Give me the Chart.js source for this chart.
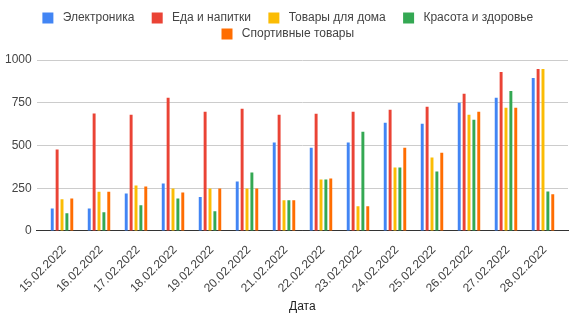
<!DOCTYPE html>
<html>
<head>
<meta charset="utf-8">
<script src="https://cdn.jsdelivr.net/npm/chart.js@4.4.1/dist/chart.umd.min.js"></script>
<style>
  body { margin: 0; background: #fff; }
  #wrap { width: 573px; height: 322px; }
</style>
</head>
<body>
<div id="wrap"><canvas id="myChart"></canvas></div>
<script>
// chart data
const dates = ["15.02.2022", "16.02.2022", "17.02.2022", "18.02.2022", "19.02.2022", "20.02.2022", "21.02.2022",
  "22.02.2022", "23.02.2022", "24.02.2022", "25.02.2022", "26.02.2022", "27.02.2022", "28.02.2022"];
const electronics = [132, 132, 219, 278, 198, 289, 517, 487, 517, 633, 627, 750, 779, 895];
const food = [476, 687, 680, 779, 697, 715, 680, 686, 697, 709, 726, 802, 930, 948];
const home = [185, 229, 266, 249, 249, 249, 179, 301, 144, 371, 429, 680, 720, 948];
const beauty = [103, 109, 150, 190, 115, 342, 179, 301, 581, 371, 348, 651, 819, 231];
const sport = [190, 229, 260, 225, 249, 249, 179, 307, 144, 487, 458, 697, 720, 214];
const yTicks = [0, 250, 500, 750, 1000];

const seriesNames = ["Электроника", "Еда и напитки", "Товары для дома", "Красота и здоровье", "Спортивные товары"];
const seriesColors = ["#4285f4", "#ea4335", "#fbbc04", "#34a853", "#ff6d01"];
const seriesValues = [electronics, food, home, beauty, sport];

Chart.defaults.font.family = "Arial, 'Liberation Sans', sans-serif";
Chart.defaults.font.size = 12;
Chart.defaults.color = "#444";

// extra space under the legend, and nudge it right (trailing spaces pull it left)
const legendTweak = {
  id: "legendTweak",
  beforeInit(chart) {
    const legend = chart.legend;
    const fit = legend.fit;
    legend.fit = function () {
      fit.call(this);
      this.height += 10;
    };
    const draw = legend.draw;
    legend.draw = function () {
      const ctx = this.ctx;
      ctx.save();
      ctx.translate(8, 0);
      draw.call(this);
      ctx.restore();
    };
  },
};

const chartContext = document.getElementById("myChart").getContext("2d");

const chart = new Chart(chartContext, {
  type: "bar",
  data: {
    datasets: seriesValues.map((values, i) => ({
      label: seriesNames[i],
      data: values.map((v, j) => ({ x: j, y: v })),
      backgroundColor: seriesColors[i],
      categoryPercentage: 0.66,
      barPercentage: 0.6,
    })),
  },
  options: {
    responsive: true,
    maintainAspectRatio: false,
    animation: false,
    layout: { padding: { left: 5, right: 5, top: 8, bottom: 8 } },
    plugins: {
      tooltip: { enabled: false },
      legend: {
        position: "top",
        labels: {
          boxWidth: 11,
          boxHeight: 11,
          padding: 4,
          color: "#444",
          // spaces widen the gaps around the legend text
          generateLabels: (c) => {
            const items = Chart.defaults.plugins.legend.labels.generateLabels(c);
            items.forEach((it) => { it.text = " " + it.text + "    "; });
            return items;
          },
        },
      },
    },
    scales: {
      x: {
        type: "linear",
        min: -0.684,
        max: 13.676,
        offset: false,
        afterBuildTicks: (axis) => { axis.ticks = dates.map((d, i) => ({ value: i })); },
        // rotated labels need no extra side room here
        afterFit: (axis) => { axis.paddingLeft = 0; axis.paddingRight = 0; },
        grid: { display: false },
        border: { display: true, color: "#333", width: 1 },
        ticks: {
          autoSkip: false,
          minRotation: 45,
          maxRotation: 45,
          color: "#444",
          padding: 4,
          labelOffset: 2,
          callback: (v) => dates[v],
        },
        title: { display: true, text: "Дата", color: "#222", padding: { top: 0, bottom: 0 } },
      },
      y: {
        min: 0,
        max: 1000,
        afterBuildTicks: (axis) => { axis.ticks = yTicks.map((v) => ({ value: v })); },
        afterFit: (axis) => { axis.width = 31.7; },
        border: { display: false },
        grid: {
          drawTicks: false,
          color: (ctx) => (ctx.tick && ctx.tick.value === 0 ? "#333" : "#ccc"),
        },
        ticks: { padding: 5, color: "#444", callback: (v) => String(v) },
      },
    },
  },
  plugins: [legendTweak],
});
</script>
</body>
</html>
